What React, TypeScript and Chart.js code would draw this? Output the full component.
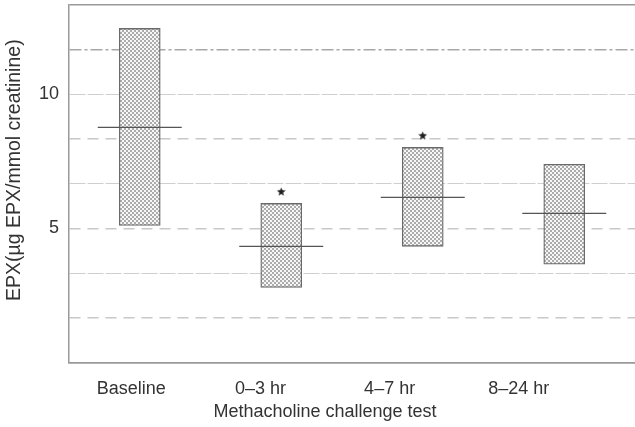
import React, { useEffect, useRef } from 'react';
import { Chart, registerables } from 'chart.js';

Chart.register(...registerables);

// ---- data ----
const categories = ['Baseline', '0–3 hr', '4–7 hr', '8–24 hr'];
const boxLow = [5.11, 2.8, 4.33, 3.66];
const boxHigh = [12.46, 5.93, 8.02, 7.39];
const medians = [8.77, 4.33, 6.16, 5.56];
const starValues: (number | null)[] = [null, 6.38, 8.47, null];
const yLabeledTicks = [5, 10];
const Y_MAX = 40 / 3;
const GRID_STEP = 5 / 3;

// ---- layout / style constants ----
const FONT = '"Liberation Sans", Arial, sans-serif';
const TEXT = '#333333';
const FRAME = '#9a9a9a';
const LABEL_START = 0.44;
const LABEL_STEP = 0.913;

function makeStar(size: number, color: string): HTMLCanvasElement {
  const c = document.createElement('canvas');
  c.width = size;
  c.height = size;
  const g = c.getContext('2d')!;
  g.fillStyle = color;
  g.beginPath();
  const cx = size / 2;
  const cy = size / 2 + 0.5;
  const R = size / 2;
  const r = R * 0.45;
  for (let k = 0; k < 10; k++) {
    const a = -Math.PI / 2 + (k * Math.PI) / 5;
    const rad = k % 2 === 0 ? R : r;
    g.lineTo(cx + rad * Math.cos(a), cy + rad * Math.sin(a));
  }
  g.closePath();
  g.fill();
  return c;
}

function makePattern(ctx: CanvasRenderingContext2D): CanvasPattern | string {
  const c = document.createElement('canvas');
  c.width = 4;
  c.height = 4;
  const g = c.getContext('2d')!;
  g.fillStyle = '#f7f7f7';
  g.fillRect(0, 0, 4, 4);
  g.fillStyle = '#acacac';
  g.fillRect(0, 0, 2, 2);
  g.fillRect(2, 2, 2, 2);
  return ctx.createPattern(c, 'repeat') || '#d0d0d0';
}

function gridColor(i: number): string {
  if (i === 0 || i === 8) return FRAME;
  if (i === 7) return '#a8a8a8';
  if (i % 2 === 1) return '#c8c8c8';
  return '#cfcfcf';
}
function gridWidth(i: number): number {
  if (i === 0 || i === 8) return 1.5;
  if (i % 2 === 0) return 1;
  return 1.5;
}
function gridDash(i: number): number[] {
  if (i === 0 || i === 8) return [];
  if (i === 7) return [12, 3, 3, 3];
  if (i % 2 === 1) return [11, 7];
  return [16, 2];
}

export default function App() {
  const ref = useRef<HTMLCanvasElement | null>(null);

  useEffect(() => {
    const canvas = ref.current;
    if (!canvas) return;
    const ctx = canvas.getContext('2d')!;
    const pattern = makePattern(ctx);
    const star = makeStar(9, '#222222');

    const chart = new Chart(ctx, {
      data: {
        labels: categories,
        datasets: [
          {
            type: 'line',
            data: starValues as any,
            xAxisID: 'xb',
            yAxisID: 'y',
            showLine: false,
            pointStyle: star as any,
            pointRadius: 5,
            order: 0,
          },
          {
            type: 'line',
            data: medians,
            xAxisID: 'xb',
            yAxisID: 'y',
            showLine: false,
            pointStyle: 'line',
            pointRadius: 42,
            pointBorderColor: '#555555',
            pointBorderWidth: 1.3,
            pointBackgroundColor: '#555555',
            order: 1,
          },
          {
            type: 'bar',
            data: categories.map((_, i) => [boxLow[i], boxHigh[i]]) as any,
            xAxisID: 'xb',
            yAxisID: 'y',
            backgroundColor: pattern as any,
            borderColor: '#6a6a6a',
            borderWidth: 1.3,
            borderSkipped: false,
            barThickness: 41,
            order: 2,
          },
        ],
      },
      options: {
        animation: false,
        responsive: false,
        events: [],
        layout: { autoPadding: false, padding: { top: 5, right: 0, bottom: 0, left: 0 } },
        plugins: {
          legend: { display: false },
          tooltip: { enabled: false },
          title: {
            display: true,
            position: 'bottom',
            text: '   Methacholine challenge test',
            color: TEXT,
            font: { family: FONT, size: 18, weight: 'normal' },
            padding: { top: 1, bottom: 4 },
          },
        },
        scales: {
          xb: {
            type: 'category',
            labels: categories,
            offset: true,
            display: false,
          },
          x: {
            type: 'linear',
            position: 'bottom',
            min: 0,
            max: 4,
            afterBuildTicks: (s: any) => {
              s.ticks = categories.map((_, i) => ({ value: LABEL_START + i * LABEL_STEP }));
            },
            afterFit: (s: any) => {
              s.paddingLeft = 0;
              s.paddingRight = 0;
              s.height = 38;
            },
            ticks: {
              autoSkip: false,
              maxRotation: 0,
              padding: 16,
              color: TEXT,
              font: { family: FONT, size: 18 },
              callback: (_v: any, i: number) => categories[i],
            },
            grid: { display: false, drawTicks: false },
            border: { display: true, color: FRAME, width: 1.5 },
          },
          y: {
            type: 'linear',
            position: 'left',
            min: 0,
            max: Y_MAX,
            afterBuildTicks: (s: any) => {
              const t = [];
              for (let i = 0; i * GRID_STEP <= Y_MAX + 1e-9; i++) t.push({ value: i * GRID_STEP });
              s.ticks = t;
            },
            afterFit: (s: any) => {
              s.width = 69;
              s.paddingTop = 0;
              s.paddingBottom = 0;
            },
            ticks: {
              padding: 10,
              color: TEXT,
              font: { family: FONT, size: 18 },
              callback: (v: any) => {
                const hit = yLabeledTicks.find((t) => Math.abs(t - Number(v)) < 1e-6);
                return hit !== undefined ? String(hit) : '';
              },
            },
            grid: {
              drawTicks: false,
              color: (c: any) => gridColor(c.index),
              lineWidth: (c: any) => gridWidth(c.index),
            },
            border: {
              display: true,
              color: FRAME,
              width: 1.5,
              dash: (c: any) => (c && c.type === 'tick' ? gridDash(c.index) : []),
            },
            title: {
              display: true,
              text: '     EPX(µg EPX/mmol creatinine)',
              color: TEXT,
              font: { family: FONT, size: 19.5 },
              padding: { top: 3, bottom: 0 },
            },
          },
        },
      } as any,
    });

    return () => chart.destroy();
  }, []);

  return (
    <div style={{ position: 'fixed', left: 0, top: 0, width: 635, height: 427, background: '#ffffff' }}>
      <canvas ref={ref} width={635} height={427} style={{ display: 'block', width: 635, height: 427 }} />
    </div>
  );
}
